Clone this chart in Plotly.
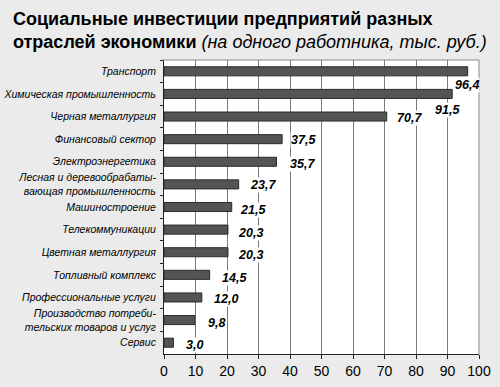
import plotly.graph_objects as go

categories = [
    "Транспорт",
    "Химическая промышленность",
    "Черная металлургия",
    "Финансовый сектор",
    "Электроэнергетика",
    "Лесная и деревообрабаты-<br>вающая промышленность",
    "Машиностроение",
    "Телекоммуникации",
    "Цветная металлургия",
    "Топливный комплекс",
    "Профессиональные услуги",
    "Производство потреби-<br>тельских товаров и услуг",
    "Сервис",
]
values = [96.4, 91.5, 70.7, 37.5, 35.7, 23.7, 21.5, 20.3, 20.3, 14.5, 12.0, 9.8, 3.0]
value_labels = ["96,4", "91,5", "70,7", "37,5", "35,7", "23,7", "21,5", "20,3", "20,3", "14,5", "12,0", "9,8", "3,0"]
x_ticks = [0, 10, 20, 30, 40, 50, 60, 70, 80, 90, 100]

# label placement (pixel offsets)
label_anchor = ["right", "right", "left", "left", "left", "left", "left", "left", "left", "left", "left", "left", "left"]
label_dx = [12, 9, 9, 8, 13, 10, 7, 9, 9, 11, 11, 12, 12]
label_dy = [-14, -16, -1, -1, -2, -1, -3, -3, -3, -3, -2, -3, -2]

FONT = "Liberation Sans, Arial, sans-serif"

fig = go.Figure(
    go.Bar(
        x=values,
        y=categories,
        orientation="h",
        width=0.4,
        marker=dict(color="#545454", line=dict(color="#2a2a2a", width=1)),
        hoverinfo="skip",
    )
)

for v, c, t, a, dx, dy in zip(values, categories, value_labels, label_anchor, label_dx, label_dy):
    fig.add_annotation(
        x=v, y=c, text=t, showarrow=False, xanchor=a, yanchor="middle",
        xshift=dx, yshift=dy, bgcolor="white", borderpad=0,
        font=dict(family=FONT, size=12.5, color="black", weight="bold", style="italic"),
    )

# title
fig.add_annotation(
    xref="paper", yref="paper", x=-0.486, y=1.18, xanchor="left", yanchor="top",
    align="left", showarrow=False,
    text="<b>Социальные инвестиции предприятий разных<br>отраслей экономики</b> <i>(на одного работника, тыс. руб.)</i>",
    font=dict(family=FONT, size=18, color="black"),
)

# frame top and right
fig.add_shape(type="line", xref="paper", yref="paper", x0=-0.006, x1=1, y0=1, y1=1,
              line=dict(color="#8a8a8a", width=1))
fig.add_shape(type="line", xref="paper", yref="paper", x0=1, x1=1, y0=0, y1=1,
              line=dict(color="#8a8a8a", width=1))

fig.update_layout(
    width=500, height=387,
    paper_bgcolor="#ebebeb",
    plot_bgcolor="white",
    margin=dict(l=164, r=21, t=60, b=33, pad=0, autoexpand=False),
    showlegend=False,
    xaxis=dict(
        range=[0, 100], tickvals=x_ticks, ticktext=[str(t) for t in x_ticks],
        showgrid=True, gridcolor="#7a7a7a", gridwidth=1,
        showline=True, linecolor="#222", linewidth=1,
        ticks="outside", ticklen=4, tickcolor="#222",
        tickfont=dict(family=FONT, size=14, color="black"),
        zeroline=False, fixedrange=True, automargin=False,
    ),
    yaxis=dict(
        categoryorder="array", categoryarray=categories,
        range=[len(categories) - 0.5, -0.5], autorange=False,
        showline=True, linecolor="#222", linewidth=1,
        ticks="outside", ticklen=3, tickcolor="#222", tickson="boundaries",
        tickfont=dict(family=FONT, size=10.5, color="black", style="italic"),
        showgrid=False, fixedrange=True, ticklabelstandoff=5, automargin=False,
    ),
)

fig.write_html("out.html", post_script="document.body.style.margin='0';",
               config={"displayModeBar": False})
